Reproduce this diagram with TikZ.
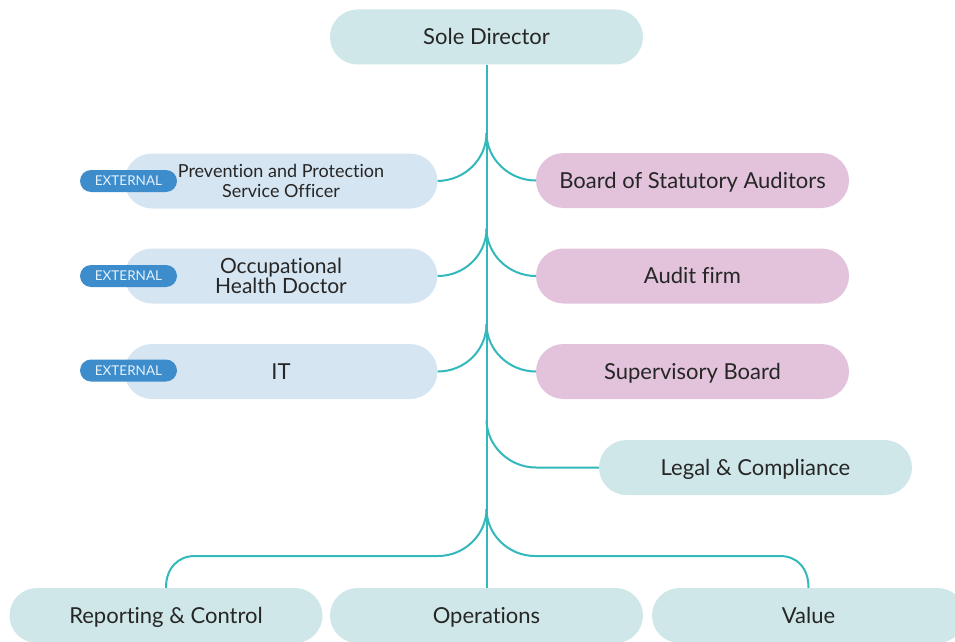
\documentclass[tikz,border=0pt]{standalone}
\usepackage{fontspec}
\setmainfont{Lato}[Ligatures={NoCommon}]
\definecolor{teal}{HTML}{33B8BB}
\definecolor{tealbox}{HTML}{CFE7E8}
\definecolor{bluebox}{HTML}{D6E5F2}
\definecolor{pinkbox}{HTML}{E2C3DB}
\definecolor{badge}{HTML}{3D8DCC}
\definecolor{badgetext}{HTML}{E6F1FA}
\definecolor{ink}{HTML}{262626}
\tikzset{
  pill/.style={rectangle, rounded corners=27.5pt, minimum width=313pt, minimum height=55pt, inner sep=0pt, align=center, text=ink, font=\fontsize{22}{24}\selectfont, text height=15.8pt, text depth=0pt},
  twoline/.style={text height=, text depth=},
  tealpill/.style={pill, fill=tealbox},
  bluepill/.style={pill, fill=bluebox},
  pinkpill/.style={pill, fill=pinkbox},
  extbadge/.style={rectangle, rounded corners=11pt, minimum width=97pt, minimum height=22pt, inner sep=0pt, fill=badge, text=badgetext, font=\fontsize{13.5}{15}\selectfont, text height=9.7pt, text depth=0pt},
  conn/.style={draw=teal, line width=2pt},
}
\begin{document}
\begin{tikzpicture}[x=1pt,y=-1pt]
\useasboundingbox (0,0) rectangle (955,642);
% nodes
\node[tealpill] (sole) at (486.5,37) {Sole Director};
\node[bluepill, twoline, font=\fontsize{18}{20}\selectfont] (ppso) at (281,181) {Prevention and Protection\\Service Officer};
\node[bluepill, twoline, font=\fontsize{21}{20}\selectfont] (ohd) at (281,276) {Occupational\\Health Doctor};
\node[bluepill] (it) at (281,371.5) {IT};
\node[pinkpill] (board) at (692.5,180.5) {Board of Statutory Auditors};
\node[pinkpill] (audit) at (692.5,276) {Audit firm};
\node[pinkpill] (sup) at (692.5,371.5) {Supervisory Board};
\node[tealpill] (legal) at (755.5,467.5) {Legal \& Compliance};
\node[tealpill] (rep) at (166,615.5) {Reporting \& Control};
\node[tealpill] (ops) at (486.5,615.5) {Operations};
\node[tealpill] (val) at (808.5,615.5) {Value};
\node[extbadge] (ext1) at (128.5,181) {EXTERNAL};
\node[extbadge] (ext2) at (128.5,276) {EXTERNAL};
\node[extbadge] (ext3) at (128.5,370.5) {EXTERNAL};
% branch points on trunk
\coordinate (b1) at (486.5,133);
\coordinate (b2) at (486.5,228.5);
\coordinate (b3) at (486.5,324);
\coordinate (b4) at (486.5,419.5);
\coordinate (b5) at (486.5,509);
\coordinate (lc) at (536,467.5);
\coordinate (bl) at (438,556);
\coordinate (blc) at (195,556);
\coordinate (br) at (535,556);
\coordinate (brc) at (780,556);
% connectors
\draw[conn] (sole.south) -- (ops.north);
\draw[conn] (b1) .. controls (486.5,159) and (465,180.5) .. (ppso.east);
\draw[conn] (b1) .. controls (486.5,159) and (509,180.5) .. (board.west);
\draw[conn] (b2) .. controls (486.5,254.5) and (465,276) .. (ohd.east);
\draw[conn] (b2) .. controls (486.5,254.5) and (509,276) .. (audit.west);
\draw[conn] (b3) .. controls (486.5,350) and (465,371.5) .. (it.east);
\draw[conn] (b3) .. controls (486.5,350) and (509,371.5) .. (sup.west);
\draw[conn] (b4) .. controls (486.5,445.5) and (509,467.5) .. (lc) -- (legal.west);
\draw[conn] (b5) .. controls (486.5,534) and (465,556) .. (bl) -- (blc) .. controls (178,556) and (166,568) .. (rep.north);
\draw[conn] (b5) .. controls (486.5,534) and (508,556) .. (br) -- (brc) .. controls (797,556) and (808.5,568) .. (val.north);
\end{tikzpicture}
\end{document}
